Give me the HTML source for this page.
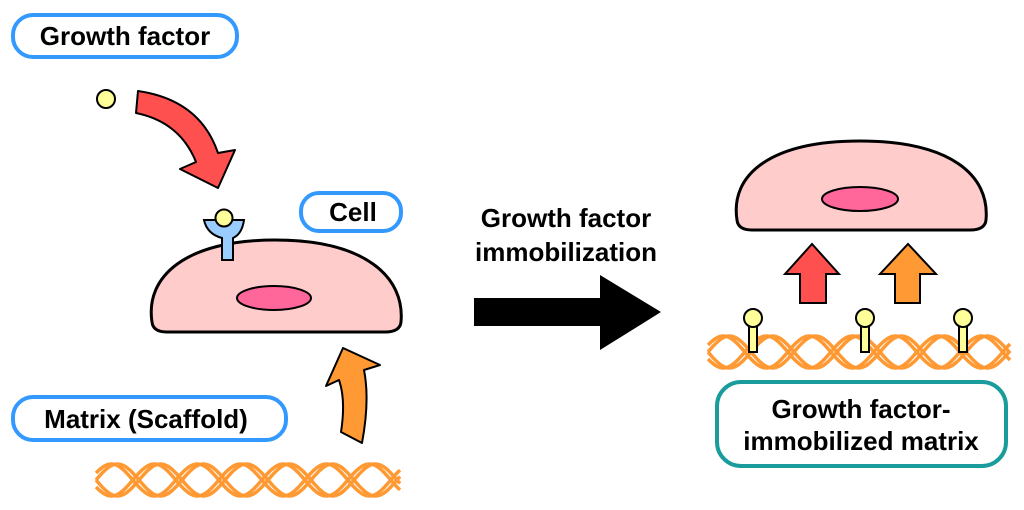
<!DOCTYPE html>
<html><head><meta charset="utf-8"><style>
html,body{margin:0;padding:0;background:#fff;}
svg{display:block;}
text{font-family:"Liberation Sans",Arial,sans-serif;font-weight:bold;fill:#000;}
</style></head><body>
<svg id="s" width="1024" height="510" viewBox="0 0 1024 510" xmlns="http://www.w3.org/2000/svg">
<g id="hel"></g>
<!-- boxes -->
<rect x="13" y="15" width="224" height="42" rx="20" fill="#fff" stroke="#3399ff" stroke-width="4"/>
<text x="125" y="45" font-size="26" text-anchor="middle">Growth factor</text>
<rect x="301" y="193" width="100" height="38" rx="18" fill="#fff" stroke="#3399ff" stroke-width="4"/>
<text x="353" y="221" font-size="26" text-anchor="middle">Cell</text>
<rect x="13" y="397" width="273" height="43" rx="20" fill="#fff" stroke="#3399ff" stroke-width="4"/>
<text x="146" y="428" font-size="26" text-anchor="middle">Matrix (Scaffold)</text>
<rect x="717" y="382" width="289" height="84" rx="24" fill="#fff" stroke="#1a9c9c" stroke-width="4"/>
<text x="861" y="418" font-size="26" text-anchor="middle">Growth factor-</text>
<text x="861" y="450" font-size="26" text-anchor="middle">immobilized matrix</text>
<!-- ball & red curved arrow -->
<circle cx="106" cy="99" r="9" fill="#ffff99" stroke="#000" stroke-width="2"/>
<path d="M138,91 Q200,100 218,153 L235,150 L218,188 L180,169 L196,162 Q180,122 136,113 Z" fill="#ff5050" stroke="#000" stroke-width="2" stroke-linejoin="round"/>
<!-- left cell -->
<path d="M152,322 C145,277 185,240 275,240 C365,240 405,277 401,322 Q400,332 385,332 L167,332 Q153,332 152,322 Z" fill="#ffcccc" stroke="#000" stroke-width="3"/>
<ellipse cx="274" cy="298" rx="37" ry="12" fill="#ff6699" stroke="#000" stroke-width="2"/>
<!-- receptor -->
<path d="M204,220 L244,220 Q242,234 233,238 L233,260 L222,260 L222,238 Q207,234 204,220 Z" fill="#99ccff" stroke="#000" stroke-width="2"/>
<circle cx="224" cy="218" r="8.5" fill="#ffff99" stroke="#000" stroke-width="2"/>
<!-- orange curved arrow -->
<path d="M362,443 L341,432 Q346,400 339,380 L326,386 L343,348 L380,365 L364,370 Q370,400 362,443 Z" fill="#ff9933" stroke="#000" stroke-width="2" stroke-linejoin="round"/>
<!-- middle -->
<text x="566" y="227" font-size="26" text-anchor="middle">Growth factor</text>
<text x="566" y="261" font-size="26" text-anchor="middle">immobilization</text>
<path d="M474,298 L600,298 L600,275 L661,312 L600,350 L600,326 L474,326 Z" fill="#000"/>
<!-- right cell -->
<path d="M737,220 C730,175 770,141 860,141 C950,141 990,175 986,220 Q985,230 970,230 L752,230 Q738,230 737,220 Z" fill="#ffcccc" stroke="#000" stroke-width="3"/>
<ellipse cx="860" cy="199" rx="38" ry="12" fill="#ff6699" stroke="#000" stroke-width="2"/>
<!-- up arrows -->
<path d="M800,303 L800,274 L785,274 L812,244 L839,274 L826,274 L826,303 Z" fill="#ff5050" stroke="#000" stroke-width="2"/>
<path d="M895,303 L895,274 L880,274 L908,244 L936,274 L920,274 L920,303 Z" fill="#ff9933" stroke="#000" stroke-width="2"/>
<g id="pins"></g>
</svg>
<script>
(function(){
var ns="http://www.w3.org/2000/svg",g=document.getElementById('hel');
function helix(x0,x1,yc,amp,per){
 var ph=[0,0.45,Math.PI,Math.PI+0.45];
 ph.forEach(function(p){
  var d="";for(var x=x0;x<=x1;x+=2){var y=yc+amp*Math.sin((x-x0)/per*2*Math.PI+p);d+=(x==x0?"M":"L")+x+","+y.toFixed(1);}
  var e=document.createElementNS(ns,'path');e.setAttribute('d',d);e.setAttribute('fill','none');e.setAttribute('stroke','#ff9933');e.setAttribute('stroke-width','3.5');g.appendChild(e);
 });
}
helix(96,400,480,16,86);
helix(708,1010,352,16,86);
var pg=document.getElementById('pins');
[753,865,963].forEach(function(x){
 pg.innerHTML+='<rect x="'+(x-4)+'" y="326" width="8" height="26" fill="#ffff99" stroke="#000" stroke-width="2"/><circle cx="'+x+'" cy="318" r="9" fill="#ffff99" stroke="#000" stroke-width="2"/>';
});
})();
</script>
</body></html>
